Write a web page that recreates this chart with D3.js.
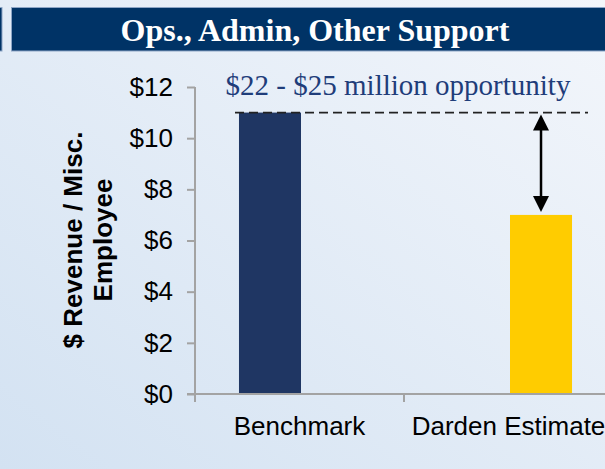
<!DOCTYPE html>
<html>
<head>
<meta charset="utf-8">
<script src="https://cdn.jsdelivr.net/npm/d3@7/dist/d3.min.js"></script>
<style>
  html, body { margin: 0; padding: 0; overflow: hidden; }
  svg { display: block; }
</style>
</head>
<body>
<script>
// Chart data
const categories = ["Benchmark", "Darden Estimate"];
const seriesNames = ["Benchmark", "Darden Estimate"];
// one row per category, one value per series (clustered layout)
const benchmarkValues = [11, 0];
const dardenValues = [0, 7];
const seriesColors = ["#1f3663", "#ffcc00"];
const yTicks = [0, 2, 4, 6, 8, 10, 12];
const titleText = "Ops., Admin, Other Support";
const noteText = "$22 - $25 million opportunity";
const yLabelLines = ["$ Revenue / Misc.", "Employee"];
const gapFrom = 11;   // benchmark level
const gapTo = 7;      // estimate level

const W = 605, H = 469;
const svg = d3.select("body").append("svg").attr("width", W).attr("height", H);

// background gradient
const defs = svg.append("defs");
const grad = defs.append("linearGradient").attr("id", "bg")
  .attr("x1", "0%").attr("y1", "100%").attr("x2", "100%").attr("y2", "0%");
grad.append("stop").attr("offset", "0%").attr("stop-color", "#d3e2f2");
grad.append("stop").attr("offset", "100%").attr("stop-color", "#f3f6fb");
svg.append("rect").attr("width", W).attr("height", H).attr("fill", "url(#bg)");

// title bar
svg.append("rect").attr("x", -20).attr("y", 7.5).attr("width", 22).attr("height", 43.5)
  .attr("fill", "#003366").attr("stroke", "#8ea6c6").attr("stroke-width", 1);
svg.append("rect").attr("x", 11.5).attr("y", 7.5).attr("width", W).attr("height", 43.5)
  .attr("fill", "#003366").attr("stroke", "#8ea6c6").attr("stroke-width", 1);
svg.append("text").attr("x", 315).attr("y", 41)
  .attr("text-anchor", "middle")
  .attr("font-family", "'Liberation Serif', 'Times New Roman', serif")
  .attr("font-weight", "bold").attr("font-size", 32)
  .attr("fill", "#ffffff").text(titleText);

// scales
const plotLeft = 195, plotBottom = 394, plotTop = 87;
const x = d3.scaleBand().domain(categories).range([plotLeft, plotLeft + 418]).padding(0);
const xs = d3.scaleBand().domain(seriesNames).range([1.5, x.bandwidth() + 1.5])
  .paddingInner(0).paddingOuter(0.685);
const y = d3.scaleLinear().domain([0, 12]).range([plotBottom, plotTop]);

// bars
const rows = categories.map((c, i) => ({ cat: c, vals: [benchmarkValues[i], dardenValues[i]] }));
const groups = svg.append("g").selectAll("g").data(rows).join("g")
  .attr("transform", d => `translate(${x(d.cat)},0)`);
groups.selectAll("rect")
  .data(d => d.vals.map((v, j) => ({ s: seriesNames[j], v, j })).filter(e => e.v > 0))
  .join("rect")
  .attr("x", e => xs(e.s))
  .attr("width", xs.bandwidth())
  .attr("y", e => y(e.v))
  .attr("height", e => y(0) - y(e.v))
  .attr("fill", e => seriesColors[e.j]);

// axes
const axisColor = "#a3a3a3";
const yAxis = svg.append("g").attr("transform", `translate(${plotLeft},0)`)
  .call(d3.axisLeft(y).tickValues(yTicks).tickSize(8).tickPadding(14)
    .tickFormat(d => "$" + d));
yAxis.select(".domain").remove();
yAxis.append("line").attr("x1", 0).attr("x2", 0).attr("y1", plotTop).attr("y2", plotBottom + 8)
  .attr("stroke", axisColor).attr("stroke-width", 2);
yAxis.selectAll(".tick line").attr("stroke", axisColor).attr("stroke-width", 2);
yAxis.selectAll(".tick text")
  .attr("font-family", "'Liberation Sans', Arial, sans-serif")
  .attr("font-size", 26).attr("fill", "#000");

const xAxis = svg.append("g").attr("transform", `translate(0,${plotBottom})`);
xAxis.append("line").attr("x1", plotLeft - 8).attr("x2", W).attr("y1", 0).attr("y2", 0)
  .attr("stroke", axisColor).attr("stroke-width", 2);
xAxis.selectAll("line.sep").data(categories.slice(1)).join("line").attr("class", "sep")
  .attr("x1", d => x(d)).attr("x2", d => x(d)).attr("y1", 0).attr("y2", 8)
  .attr("stroke", axisColor).attr("stroke-width", 2);
xAxis.selectAll("text.cat").data(categories).join("text").attr("class", "cat")
  .attr("x", d => x(d) + x.bandwidth() / 2).attr("y", 41)
  .attr("text-anchor", "middle")
  .attr("font-family", "'Liberation Sans', Arial, sans-serif")
  .attr("font-size", 26).attr("fill", "#000").text(d => d);

// y-axis title
const yl = svg.append("text")
  .attr("transform", "translate(82,240) rotate(-90)")
  .attr("text-anchor", "middle")
  .attr("font-family", "'Liberation Sans', Arial, sans-serif")
  .attr("font-weight", "bold").attr("font-size", 26).attr("fill", "#000");
yl.selectAll("tspan").data(yLabelLines).join("tspan")
  .attr("x", 0).attr("dy", (d, i) => i === 0 ? 0 : 30).text(d => d);

// benchmark reference line
const refY = y(gapFrom);
svg.append("line").attr("x1", 235).attr("x2", 588).attr("y1", refY).attr("y2", refY)
  .attr("stroke", "#222").attr("stroke-width", 1.8).attr("stroke-dasharray", "9,5");

// double-headed gap arrow above the estimate bar
const arrowX = x(categories[1]) + xs(seriesNames[1]) + xs.bandwidth() / 2;
const arrowTop = y(gapFrom) + 2, arrowBot = y(gapTo) - 3;
const headLen = 16, headHalf = 8;
svg.append("line").attr("x1", arrowX).attr("x2", arrowX)
  .attr("y1", arrowTop + headLen - 2).attr("y2", arrowBot - headLen + 2)
  .attr("stroke", "#000").attr("stroke-width", 2.5);
svg.append("path")
  .attr("d", `M${arrowX},${arrowTop} L${arrowX - headHalf},${arrowTop + headLen} L${arrowX + headHalf},${arrowTop + headLen} Z`)
  .attr("fill", "#000");
svg.append("path")
  .attr("d", `M${arrowX},${arrowBot} L${arrowX - headHalf},${arrowBot - headLen} L${arrowX + headHalf},${arrowBot - headLen} Z`)
  .attr("fill", "#000");

// opportunity note
svg.append("text").attr("x", 398).attr("y", 95)
  .attr("text-anchor", "middle")
  .attr("font-family", "'Liberation Serif', 'Times New Roman', serif")
  .attr("font-size", 29).attr("fill", "#1f3d7a").text(noteText);
</script>
</body>
</html>
